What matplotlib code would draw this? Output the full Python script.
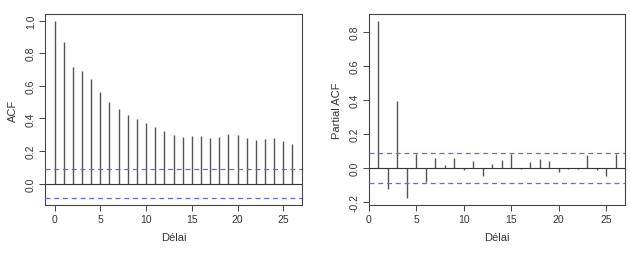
import numpy as np
import matplotlib
matplotlib.use("Agg")
from matplotlib import pyplot as plt

plt.rcParams['font.family'] = ['Liberation Sans', 'DejaVu Sans']

# autocorrelations
acf_lags = list(range(0, 27))
acf_vals = [1.0, 0.868, 0.718, 0.689, 0.643, 0.565, 0.501, 0.456, 0.423, 0.398,
            0.371, 0.346, 0.324, 0.297, 0.287, 0.293, 0.293, 0.278, 0.285, 0.303,
            0.299, 0.280, 0.268, 0.276, 0.280, 0.260, 0.245]

pacf_lags = list(range(1, 27))
pacf_vals = [0.866, -0.126, 0.397, -0.175, 0.080, -0.086, 0.059, 0.016, 0.061,
             -0.014, 0.043, -0.049, 0.024, 0.049, 0.083, -0.008, 0.037, 0.053,
             0.043, -0.024, -0.008, -0.008, 0.077, -0.010, -0.049, 0.079]

conf = 0.088
acf_yticks = [0.0, 0.2, 0.4, 0.6, 0.8, 1.0]
pacf_yticks = [-0.2, 0.0, 0.2, 0.4, 0.6, 0.8]
xticks = [0, 5, 10, 15, 20, 25]

fig = plt.figure(figsize=(6.3, 2.55), dpi=100)
ax1 = fig.add_axes([45/630, 49/255, 257/630, 191/255])
ax2 = fig.add_axes([369/630, 49/255, 256/630, 191/255])


def style(ax, yticks, ylab):
    for s in ax.spines.values():
        s.set_color('#444444')
        s.set_linewidth(0.8)
    ax.tick_params(direction='out', length=4, width=0.7, color='#444444',
                   labelsize=7.5, labelcolor='#333333', pad=2.5)
    ax.set_xticks(xticks)
    ax.set_yticks(yticks)
    ax.set_yticklabels([f'{v:.1f}' for v in yticks], rotation=90, va='center')
    ax.set_xlabel('Délai', fontsize=8, color='#333333', labelpad=6)
    ax.set_ylabel(ylab, fontsize=8, color='#333333', labelpad=6)


def draw(ax, lags, vals):
    ax.vlines(lags, 0, vals, color='#555555', linewidth=1.0)
    ax.axhline(0, color='#333333', linewidth=0.8)
    for c in (conf, -conf):
        ax.axhline(c, color='#6868e0', linewidth=0.9, linestyle=(0, (4, 3)),
                   zorder=3)


draw(ax1, acf_lags, acf_vals)
ax1.set_xlim(-1.04, 27.04)
ax1.set_ylim(-0.13, 1.04)
style(ax1, acf_yticks, 'ACF')

draw(ax2, pacf_lags, pacf_vals)
ax2.set_xlim(0, 27)
ax2.set_ylim(-0.219, 0.907)
style(ax2, pacf_yticks, 'Partial ACF')

fig.savefig('out.png', dpi=100)
